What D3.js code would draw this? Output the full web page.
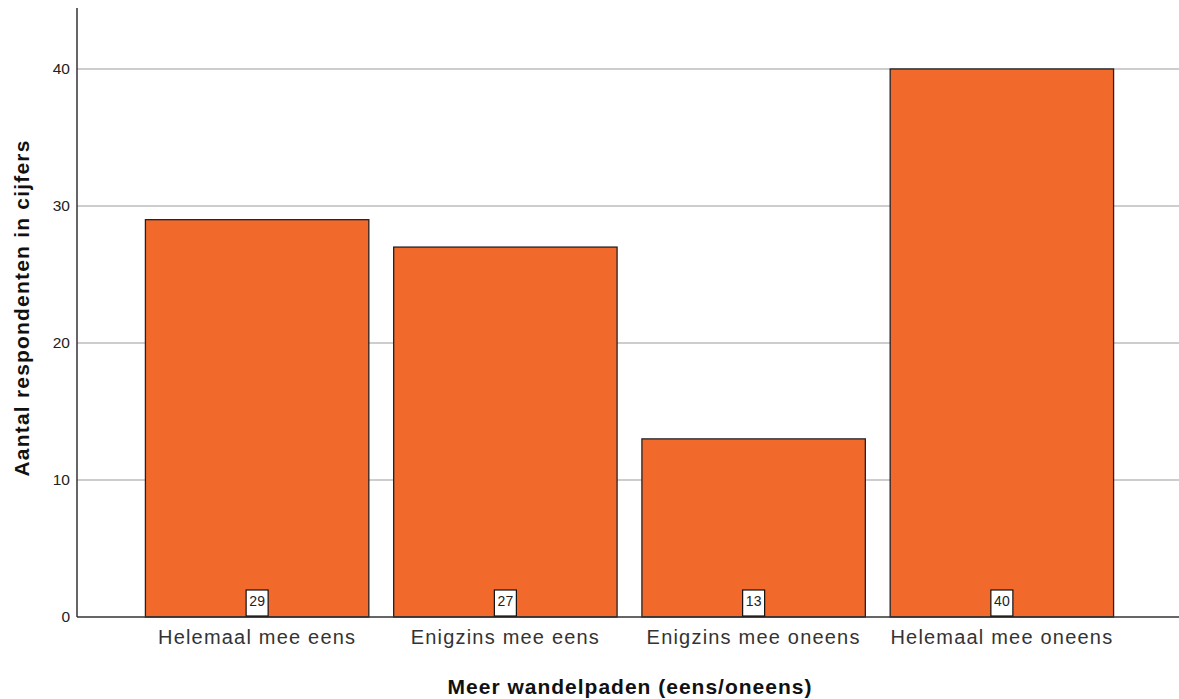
<!DOCTYPE html>
<html>
<head>
<meta charset="utf-8">
<script src="https://cdn.jsdelivr.net/npm/d3@7"></script>
<style>
body{margin:0;background:#fff;}
text{font-family:"Liberation Sans",Arial,sans-serif;}
</style>
</head>
<body>
<svg id="chart" width="1179" height="699"></svg>
<script>
const categories = ["Helemaal mee eens","Enigzins mee eens","Enigzins mee oneens","Helemaal mee oneens"];
const values = [29,27,13,40];
const yTicks = [0,10,20,30,40];
const xTitle = "Meer wandelpaden (eens/oneens)";
const yTitle = "Aantal respondenten in cijfers";

(function(){
const svg = d3.select("#chart");
const mLeft = 77, mRight = 1179, mTop = 8, mBottom = 617;
const y = d3.scaleLinear().domain([0,44.45]).range([mBottom, mTop]);
const x = d3.scaleBand().domain(categories).range([133,1126]).paddingInner(0.1).paddingOuter(0.05);

// gridlines
svg.append("g").selectAll("line").data(yTicks.filter(d=>d>0)).join("line")
  .attr("x1", mLeft).attr("x2", mRight)
  .attr("y1", d=>y(d)).attr("y2", d=>y(d))
  .attr("stroke", "#bdbdbd").attr("stroke-width", 1.5);

// bars
svg.append("g").selectAll("rect").data(values).join("rect")
  .attr("x", (d,i)=>x(categories[i]))
  .attr("width", x.bandwidth())
  .attr("y", d=>y(d))
  .attr("height", d=>mBottom - y(d))
  .attr("fill", "#f2692c")
  .attr("stroke", "#222").attr("stroke-width", 1.3);

// y axis
const yAxis = d3.axisLeft(y).tickValues(yTicks).tickSize(0).tickPadding(7);
const gy = svg.append("g").attr("transform", `translate(${mLeft},0)`).call(yAxis);
gy.select(".domain").remove();
gy.selectAll("text").attr("font-size", 15.5).attr("fill", "#222").attr("font-family","Liberation Sans, Arial, sans-serif");
svg.append("line").attr("x1", mLeft).attr("x2", mLeft).attr("y1", mTop).attr("y2", mBottom)
  .attr("stroke", "#333").attr("stroke-width", 1.5);

// x axis
const xAxis = d3.axisBottom(x).tickSize(0).tickPadding(13);
const gx = svg.append("g").attr("transform", `translate(0,${mBottom})`).call(xAxis);
gx.select(".domain").remove();
gx.selectAll("text").attr("font-size", 20).attr("letter-spacing", 1.2).attr("fill", "#333").attr("font-family","Liberation Sans, Arial, sans-serif");
svg.append("line").attr("x1", mLeft).attr("x2", mRight).attr("y1", mBottom).attr("y2", mBottom)
  .attr("stroke", "#333").attr("stroke-width", 1.5);

// value labels
const lab = svg.append("g").selectAll("g").data(values).join("g")
  .attr("transform", (d,i)=>`translate(${x(categories[i]) + x.bandwidth()/2},${mBottom})`);
lab.append("rect").attr("x", -11).attr("y", -27).attr("width", 22).attr("height", 26)
  .attr("fill", "#fff").attr("stroke", "#111").attr("stroke-width", 1.2);
lab.append("text").attr("text-anchor", "middle").attr("y", -11)
  .attr("font-size", 14).attr("fill", "#222").text(d=>d);

// titles
svg.append("text").attr("x", 630).attr("y", 694).attr("text-anchor", "middle")
  .attr("font-size", 21).attr("letter-spacing", 1).attr("font-weight", "bold").attr("fill", "#111").text(xTitle);
svg.append("text").attr("transform", "translate(29,308) rotate(-90)").attr("text-anchor", "middle")
  .attr("font-size", 21).attr("letter-spacing", 1.2).attr("font-weight", "bold").attr("fill", "#111").text(yTitle);
})();
</script>
</body>
</html>
